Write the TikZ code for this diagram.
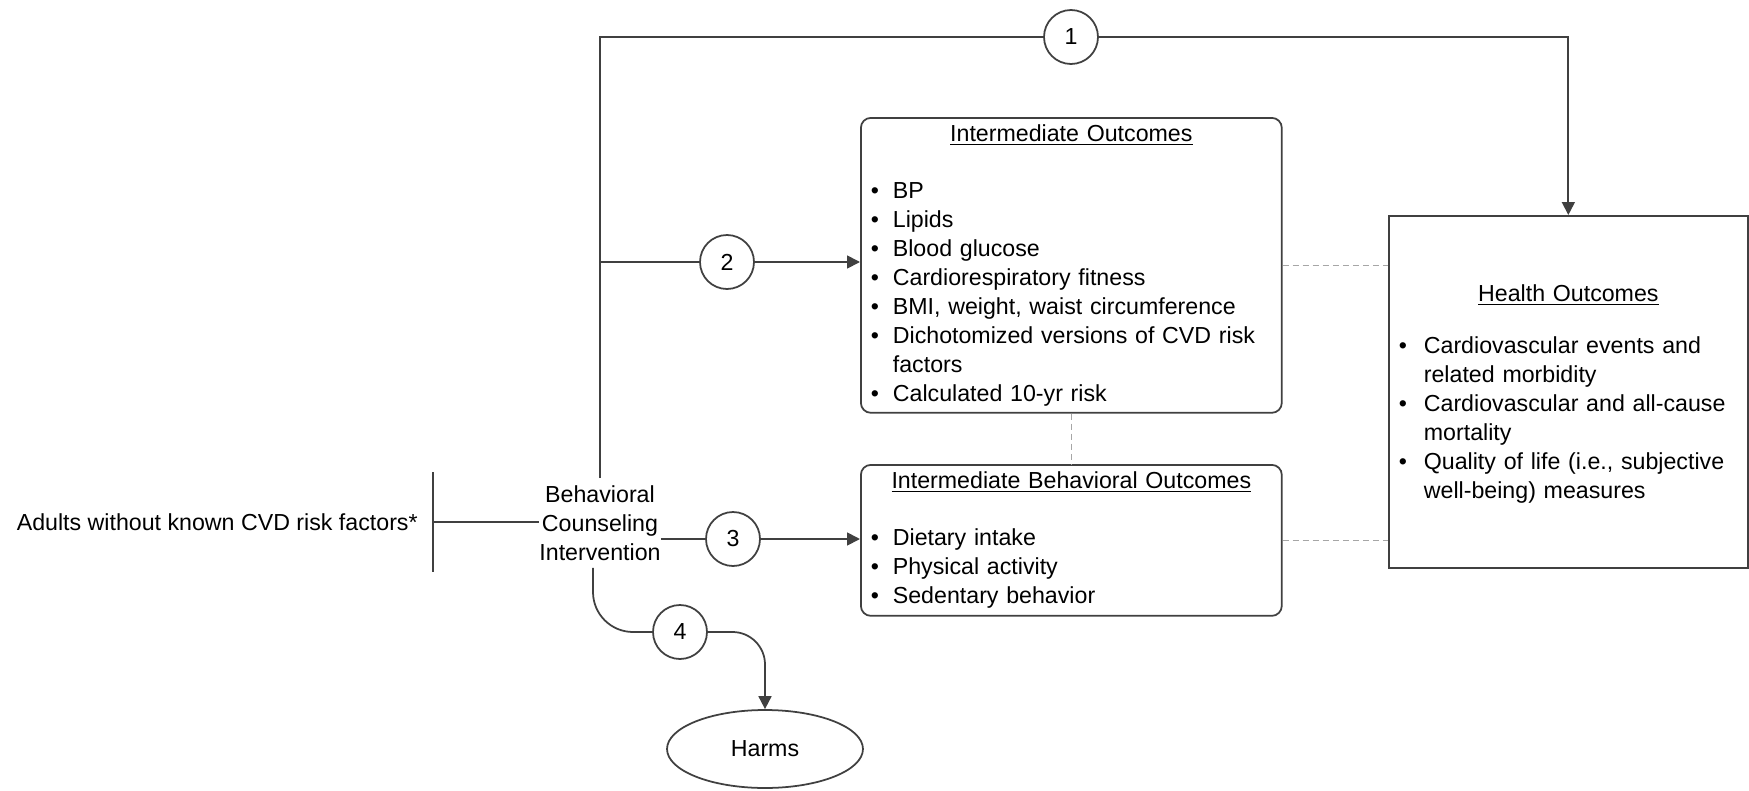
\documentclass[tikz,border=0pt]{standalone}
\usepackage{fontspec}
\setmainfont{Liberation Sans}
\usetikzlibrary{arrows.meta,positioning,shapes.geometric}

\newcommand{\diagfont}{\fontsize{13.2pt}{16.5pt}\selectfont}
% one bullet line, optional width of the bullet column
\newcommand{\bul}[2][0.44cm]{\par\hangindent=#1\hangafter=1\noindent\makebox[#1][l]{\textbullet}#2\par}

\begin{document}
\begin{tikzpicture}[
    x=0.02cm, y=-0.02cm,
    font=\diagfont,
    line/.style={draw=black!75,line width=1pt},
    outbox/.style={line,inner xsep=0.2cm,inner ysep=0pt,align=left,anchor=north west},
    numcirc/.style={line,circle,minimum size=1.08cm,inner sep=0pt},
    dashline/.style={gray!70,line width=0.6pt,dash pattern=on 3.4pt off 2.3pt},
    >={Triangle[length=0.26cm,width=0.26cm]}]
  \useasboundingbox (0,0) rectangle (1749,791);

  % population and intervention
  \coordinate (bar) at (433,522);
  \node[inner sep=0pt,left=0.3cm of bar] (adults) {Adults without known CVD risk factors*};
  \node[align=center,inner xsep=0pt,inner ysep=0.14cm] (interv) at (600,523) {Behavioral\\Counseling\\Intervention};

  % outcome boxes
  \node[outbox,rounded corners=0.2cm,text width=8.02cm,text height=0.48cm,text depth=5.42cm] (inter) at (860,117) {%
    {\centering\underline{Intermediate Outcomes}\par}\vspace{0.56cm}%
    \bul{BP}\bul{Lipids}\bul{Blood glucose}\bul{Cardiorespiratory fitness}%
    \bul{BMI, weight, waist circumference}%
    \bul{Dichotomized versions of CVD risk\newline factors}%
    \bul{Calculated 10-yr risk}};
  \node[outbox,rounded corners=0.2cm,text width=8.02cm,text height=0.48cm,text depth=2.54cm] (behav) at (860,464) {%
    {\centering\underline{Intermediate Behavioral Outcomes}\par}\vspace{0.56cm}%
    \bul{Dietary intake}\bul{Physical activity}\bul{Sedentary behavior}};
  \node[outbox,text width=6.78cm,text height=1.72cm,text depth=5.32cm] (health) at (1388,215) {%
    {\centering\underline{Health Outcomes}\par}\vspace{0.46cm}%
    \bul[0.5cm]{Cardiovascular events and\newline related morbidity}%
    \bul[0.5cm]{Cardiovascular and all-cause\newline mortality}%
    \bul[0.5cm]{Quality of life (i.e., subjective\newline well-being) measures}};
  \node[line,ellipse,minimum width=3.92cm,minimum height=1.56cm] (harms) at (765,749) {Harms};

  % key questions
  \node[numcirc] (c1) at (1071,37) {1};
  \node[numcirc] (c2) at (727,262) {2};
  \node[numcirc] (c3) at (733,539) {3};
  \node[numcirc] (c4) at (680,632) {4};

  \draw[line] (bar) ++(0,-50) -- ++(0,100);
  \draw[line] (bar) -- (bar -| interv.west);
  \draw[line] (interv.north) |- (c1);
  \draw[line,->] (c1) -| (health.north);
  \draw[line] (interv.north |- c2) -- (c2);
  \draw[line,->] (c2) -- (c2 -| inter.west);
  \draw[line] (c3 -| interv.east) -- (c3);
  \draw[line,->] (c3) -- (c3 -| behav.west);
  \draw[line,rounded corners=0.8cm] ([xshift=-0.14cm]interv.south) |- (c4);
  \draw[line,->,rounded corners=0.65cm] (c4) -| (harms.north);

  % links between outcomes
  \draw[dashline] (inter.south) -- (behav.north);
  \draw[dashline] (inter.east) -- (inter.east -| health.west);
  \draw[dashline] (behav.east) -- (behav.east -| health.west);
\end{tikzpicture}
\end{document}
